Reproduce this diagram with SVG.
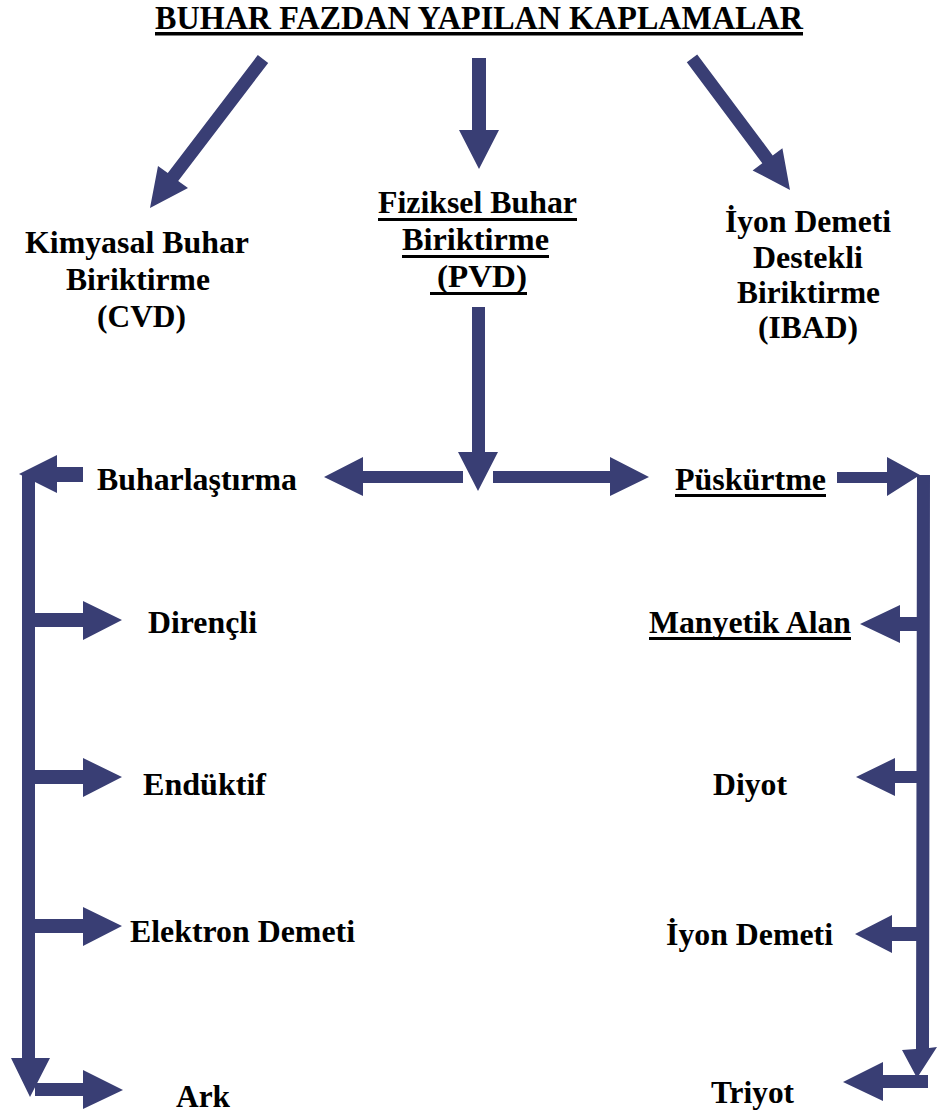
<svg xmlns="http://www.w3.org/2000/svg" width="937" height="1116" viewBox="0 0 937 1116">
<style>
.t{font-family:"Liberation Serif","Times New Roman",serif;font-weight:bold;font-size:30.5px;fill:#000}
.ttl{font-family:"Liberation Serif","Times New Roman",serif;font-weight:bold;font-size:33px;fill:#000}
.ul{fill:#000}
.ar{fill:#393e74}
</style>
<rect width="937" height="1116" fill="#fff"/>
<g id="title">
<text class="ttl" x="155" y="29" textLength="648" lengthAdjust="spacingAndGlyphs">BUHAR FAZDAN YAPILAN KAPLAMALAR</text>
<rect class="ul" x="155" y="32" width="648" height="3.5"/>
</g>
<g id="cvd">
<text class="t" x="25" y="253" textLength="224" lengthAdjust="spacingAndGlyphs">Kimyasal Buhar</text>
<text class="t" x="66" y="290" textLength="144" lengthAdjust="spacingAndGlyphs">Biriktirme</text>
<text class="t" x="97" y="327" textLength="89" lengthAdjust="spacingAndGlyphs">(CVD)</text>
</g>
<g id="pvd">
<text class="t" x="378" y="213" textLength="199" lengthAdjust="spacingAndGlyphs">Fiziksel Buhar</text>
<rect class="ul" x="378" y="218" width="199" height="3"/>
<text class="t" x="402" y="250" textLength="147" lengthAdjust="spacingAndGlyphs">Biriktirme</text>
<rect class="ul" x="402" y="255" width="147" height="3"/>
<text class="t" x="437" y="287" textLength="90" lengthAdjust="spacingAndGlyphs">(PVD)</text>
<rect class="ul" x="430" y="292" width="97" height="3"/>
</g>
<g id="ibad">
<text class="t" x="725" y="232" textLength="166" lengthAdjust="spacingAndGlyphs">İyon Demeti</text>
<text class="t" x="753" y="268" textLength="110" lengthAdjust="spacingAndGlyphs">Destekli</text>
<text class="t" x="737" y="303" textLength="143" lengthAdjust="spacingAndGlyphs">Biriktirme</text>
<text class="t" x="758" y="338" textLength="100" lengthAdjust="spacingAndGlyphs">(IBAD)</text>
</g>
<g id="buharlastirma"><text class="t" x="97" y="490" textLength="200" lengthAdjust="spacingAndGlyphs">Buharlaştırma</text></g>
<g id="puskurtme">
<text class="t" x="675" y="490" textLength="151" lengthAdjust="spacingAndGlyphs">Püskürtme</text>
<rect class="ul" x="675" y="494" width="151" height="3"/>
</g>
<g id="direncli"><text class="t" x="148" y="633" textLength="109" lengthAdjust="spacingAndGlyphs">Dirençli</text></g>
<g id="manyetik">
<text class="t" x="649" y="633" textLength="202" lengthAdjust="spacingAndGlyphs">Manyetik Alan</text>
<rect class="ul" x="649" y="637" width="202" height="3"/>
</g>
<g id="enduktif"><text class="t" x="143" y="795" textLength="123" lengthAdjust="spacingAndGlyphs">Endüktif</text></g>
<g id="diyot"><text class="t" x="713" y="795" textLength="74" lengthAdjust="spacingAndGlyphs">Diyot</text></g>
<g id="elektron"><text class="t" x="130" y="942" textLength="225" lengthAdjust="spacingAndGlyphs">Elektron Demeti</text></g>
<g id="iyon"><text class="t" x="666" y="945" textLength="167" lengthAdjust="spacingAndGlyphs">İyon Demeti</text></g>
<g id="ark"><text class="t" x="176" y="1107" textLength="54" lengthAdjust="spacingAndGlyphs">Ark</text></g>
<g id="triyot"><text class="t" x="711" y="1103" textLength="83" lengthAdjust="spacingAndGlyphs">Triyot</text></g>
<g id="connectors" class="ar">
<polygon points="257.8,55.1 268.2,62.9 178.2,180.9 188,188 150,208 158,166 167.8,173.1"/>
<polygon points="472,58 486,58 486,130 499,130 479,169 459,130 472,130"/>
<polygon points="686.8,62.3 697.2,54.5 772.7,155.4 782.4,148.2 790,190 752.6,170.4 762.3,163.2"/>
<polygon points="472,307 485,307 485,452 498,452 478,491 458,452 472,452"/>
<polygon points="463,471 363,471 363,457 324,477 363,496 363,483 463,483"/>
<polygon points="493,471 610,471 610,457 649,477 610,496 610,483 493,483"/>
<polygon points="83,467 57,467 57,455 19,474 57,493 57,482 83,482"/>
<polygon points="22,474 35,474 35,1058 50,1058 30,1097 11,1058 22,1058"/>
<polygon points="35,613 83,613 83,601 122,620 83,640 83,627 35,627"/>
<polygon points="35,770 83,770 83,758 122,777 83,797 83,784 35,784"/>
<polygon points="35,919 83,919 83,907 122,926 83,946 83,933 35,933"/>
<polygon points="35,1083 83,1083 83,1070 123,1090 83,1109 83,1096 35,1096"/>
<polygon points="837,472 887,472 887,457 920,475 887,496 887,483 837,483"/>
<polygon points="917,475 930,475 929,1048 937,1047 917,1078 902,1050 916,1049"/>
<polygon points="928,1075 883,1075 883,1062 843,1082 883,1101 883,1088 928,1088"/>
<polygon points="917,617 900,617 900,605 860,624 900,643 900,631 917,631"/>
<polygon points="917,771 895,771 895,758 856,777 895,796 895,783 917,783"/>
<polygon points="917,927 892,927 892,915 855,934 892,953 892,941 917,941"/>
</g>
</svg>
